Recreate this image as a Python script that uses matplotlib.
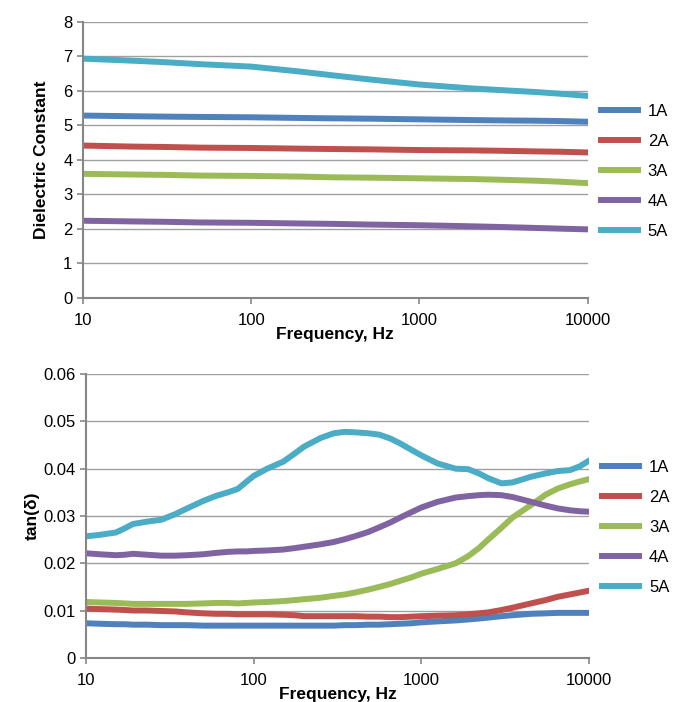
import numpy as np
import matplotlib.pyplot as plt

plt.rcParams['font.family'] = ['Liberation Sans', 'DejaVu Sans']

# Sample labels and colours
labels = ['1A', '2A', '3A', '4A', '5A']
colors = ['#4F81BD', '#C0504D', '#9BBB59', '#8064A2', '#4BACC6']

# Dielectric constant vs frequency
freq_eps = [10, 20, 30, 50, 100, 200, 300, 500, 1000, 2000, 3000, 5000, 7000, 10000]
eps = {
    '1A': [5.28, 5.26, 5.25, 5.24, 5.23, 5.21, 5.20, 5.19, 5.17, 5.15, 5.14, 5.13, 5.12, 5.10],
    '2A': [4.41, 4.38, 4.37, 4.35, 4.34, 4.32, 4.31, 4.30, 4.28, 4.27, 4.26, 4.24, 4.23, 4.21],
    '3A': [3.59, 3.57, 3.56, 3.54, 3.53, 3.51, 3.49, 3.48, 3.46, 3.44, 3.42, 3.39, 3.36, 3.32],
    '4A': [2.23, 2.21, 2.20, 2.18, 2.17, 2.15, 2.14, 2.12, 2.10, 2.07, 2.05, 2.02, 2.00, 1.98],
    '5A': [6.93, 6.87, 6.83, 6.77, 6.70, 6.55, 6.45, 6.33, 6.18, 6.07, 6.02, 5.96, 5.91, 5.85],
}

# Loss tangent vs frequency
freq_tan = [10, 12, 15, 17, 19, 23, 28, 34, 40, 50, 60, 70, 80, 90, 100, 120, 150, 175,
            200, 250, 300, 350, 400, 480, 560, 650, 750, 870, 1000, 1250, 1600, 1900, 2200,
            2500, 3000, 3500, 4500, 5500, 6500, 7700, 8800, 10000]
tan_d = {
    '1A': [0.0073, 0.0072, 0.0071, 0.0071, 0.0070, 0.0070, 0.0069, 0.0069, 0.0069, 0.0068,
           0.0068, 0.0068, 0.0068, 0.0068, 0.0068, 0.0068, 0.0068, 0.0068, 0.0068, 0.0068,
           0.0068, 0.0069, 0.0069, 0.0070, 0.0070, 0.0071, 0.0072, 0.0073, 0.0075, 0.0077,
           0.0079, 0.0081, 0.0083, 0.0085, 0.0088, 0.0090, 0.0093, 0.0094, 0.0095, 0.0095,
           0.0095, 0.0095],
    '2A': [0.0104, 0.0103, 0.0102, 0.0101, 0.0100, 0.0100, 0.0099, 0.0098, 0.0096, 0.0094,
           0.0093, 0.0093, 0.0092, 0.0092, 0.0092, 0.0092, 0.0091, 0.0090, 0.0088, 0.0088,
           0.0088, 0.0088, 0.0088, 0.0087, 0.0087, 0.0086, 0.0086, 0.0087, 0.0088, 0.0089,
           0.0090, 0.0092, 0.0094, 0.0096, 0.0101, 0.0106, 0.0115, 0.0122, 0.0129, 0.0134,
           0.0138, 0.0142],
    '3A': [0.0118, 0.0117, 0.0116, 0.0115, 0.0114, 0.0114, 0.0114, 0.0114, 0.0114, 0.0115,
           0.0116, 0.0116, 0.0115, 0.0116, 0.0117, 0.0118, 0.0120, 0.0122, 0.0124, 0.0127,
           0.0131, 0.0134, 0.0138, 0.0144, 0.0150, 0.0156, 0.0163, 0.0170, 0.0178, 0.0188,
           0.0200, 0.0215, 0.0232, 0.0250, 0.0275, 0.0297, 0.0323, 0.0345, 0.0358, 0.0367,
           0.0373, 0.0378],
    '4A': [0.0221, 0.0219, 0.0217, 0.0218, 0.0220, 0.0218, 0.0216, 0.0216, 0.0217, 0.0219,
           0.0222, 0.0224, 0.0225, 0.0225, 0.0226, 0.0227, 0.0229, 0.0232, 0.0235, 0.0240,
           0.0245, 0.0251, 0.0257, 0.0266, 0.0276, 0.0286, 0.0297, 0.0308, 0.0318, 0.0330,
           0.0339, 0.0342, 0.0344, 0.0345, 0.0344, 0.0340, 0.0330, 0.0322, 0.0316, 0.0312,
           0.0310, 0.0309],
    '5A': [0.0257, 0.0260, 0.0265, 0.0274, 0.0283, 0.0288, 0.0292, 0.0304, 0.0316, 0.0332,
           0.0343, 0.0350, 0.0357, 0.0372, 0.0385, 0.0400, 0.0415, 0.0432, 0.0447, 0.0465,
           0.0475, 0.0478, 0.0477, 0.0475, 0.0472, 0.0464, 0.0453, 0.0440, 0.0428, 0.0411,
           0.0400, 0.0399, 0.0390, 0.0380, 0.0369, 0.0371, 0.0383, 0.0390, 0.0395, 0.0397,
           0.0405, 0.0417],
}

eps_ticks = np.arange(0, 9, 1)
tan_ticks = [0, 0.01, 0.02, 0.03, 0.04, 0.05, 0.06]
tan_ticklabels = ['0', '0.01', '0.02', '0.03', '0.04', '0.05', '0.06']
x_ticks = [10, 100, 1000, 10000]

axis_gray = '#868686'
grid_gray = '#A0A0A0'

fig = plt.figure(figsize=(6.74, 7.02), dpi=100)
ax1 = fig.add_axes([0.123, 0.576, 0.749, 0.393])
ax2 = fig.add_axes([0.128, 0.063, 0.746, 0.404])


def style_axis(ax, yticks, yticklabels):
    ax.set_xscale('log')
    ax.set_xlim(10, 10000)
    ax.set_xticks(x_ticks)
    ax.set_xticklabels([str(t) for t in x_ticks])
    ax.xaxis.set_minor_locator(plt.NullLocator())
    ax.set_yticks(yticks)
    ax.set_yticklabels(yticklabels)
    ax.set_ylim(yticks[0], yticks[-1])
    for side in ['top', 'right']:
        ax.spines[side].set_visible(False)
    for side in ['left', 'bottom']:
        ax.spines[side].set_color(axis_gray)
        ax.spines[side].set_linewidth(1.5)
    ax.tick_params(axis='both', colors=axis_gray, labelcolor='black',
                   labelsize=12, length=4, width=1.2, direction='out')
    ax.tick_params(axis='x', pad=7)
    ax.yaxis.grid(True, color=grid_gray, linewidth=1.0)
    ax.set_axisbelow(True)
    ax.set_xlabel('Frequency, Hz', fontsize=12.5, fontweight='bold', labelpad=-1)


legend_kw = dict(loc='center left', frameon=False, fontsize=12, handlelength=2.2,
                 labelspacing=0.9, borderaxespad=0.4, handletextpad=0.6)

for lab, col in zip(labels, colors):
    ax1.plot(freq_eps, eps[lab], color=col, linewidth=4.3, label=lab)
style_axis(ax1, list(eps_ticks), [str(t) for t in eps_ticks])
ax1.set_ylabel('Dielectric Constant', fontsize=12.5, fontweight='bold', labelpad=10)
ax1.legend(bbox_to_anchor=(1.0, 0.457), **legend_kw)

for lab, col in zip(labels, colors):
    ax2.plot(freq_tan, tan_d[lab], color=col, linewidth=4.3, label=lab)
style_axis(ax2, tan_ticks, tan_ticklabels)
ax2.set_ylabel('tan(δ)', fontsize=12.5, fontweight='bold', labelpad=3)
ax2.legend(bbox_to_anchor=(1.0, 0.459), **legend_kw)

fig.savefig('out.png', dpi=100)
